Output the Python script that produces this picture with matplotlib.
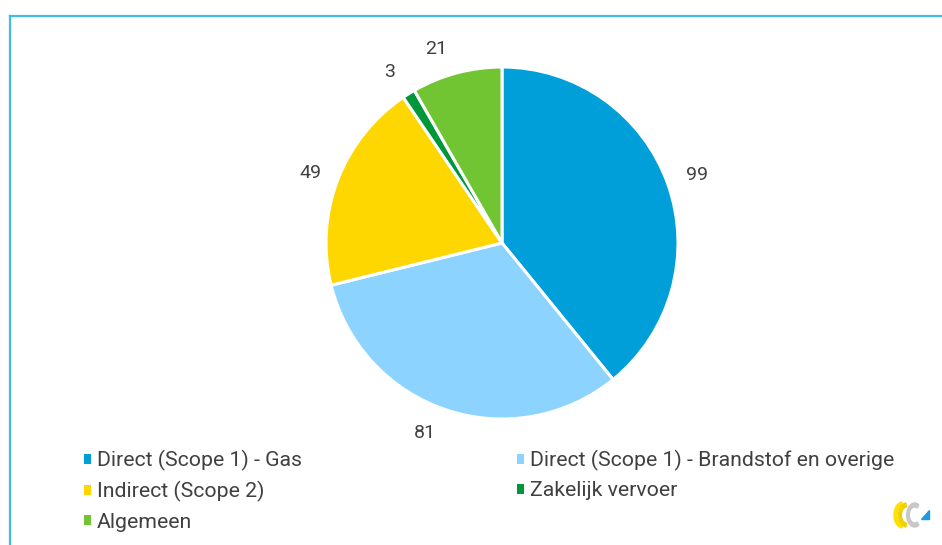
import matplotlib
matplotlib.use("Agg")
import matplotlib.pyplot as plt
from matplotlib.patches import Patch, Wedge, Polygon
from matplotlib.lines import Line2D

categories = ["Direct (Scope 1) - Gas", "Direct (Scope 1) - Brandstof en overige",
              "Indirect (Scope 2)", "Zakelijk vervoer", "Algemeen"]
values = [99, 81, 49, 3, 21]
colors = ["#009FDA", "#8DD3FF", "#FFD700", "#00963A", "#71C532"]

plt.rcParams['font.family'] = ['Roboto', 'DejaVu Sans']
W, H = 942, 545
fig = plt.figure(figsize=(W / 100, H / 100), dpi=100)

# frame border
fig.add_artist(Line2D([10 / W, 10 / W], [0, 1 - 16 / H], transform=fig.transFigure,
                      color="#3DBDE8", lw=1.6))
fig.add_artist(Line2D([10 / W, 1], [1 - 16 / H, 1 - 16 / H], transform=fig.transFigure,
                      color="#3DBDE8", lw=1.6))

# pie axes: center (502,243), radius 176
cx, cy, r = 502, 243, 176
ax = fig.add_axes([(cx - r) / W, 1 - (cy + r) / H, 2 * r / W, 2 * r / H])
wedges, texts = ax.pie(values, colors=colors, startangle=90, counterclock=False,
                       labels=[str(v) for v in values], labeldistance=1.13,
                       wedgeprops=dict(edgecolor="white", linewidth=2.2),
                       textprops=dict(fontsize=14, color="#404040"))
ax.set_aspect("equal")
ax.set_xlim(-1, 1)
ax.set_ylim(-1, 1)
label_pos = {0: (697, 175), 1: (425, 433), 2: (310, 173), 3: (390, 72), 4: (436, 49)}
for i, t in enumerate(texts):
    px, py = label_pos[i]
    t.set_position(((px - cx) / r, -(py - cy) / r))
    t.set_ha("center")
    t.set_va("center")

# legend
def make_handles(idx):
    return [Patch(facecolor=colors[i], edgecolor="none") for i in idx]

common = dict(loc="upper left", frameon=False, fontsize=15.3, handlelength=0.34,
              handleheight=0.34, handletextpad=0.28, labelspacing=0.48,
              labelcolor="#404040", borderaxespad=0, borderpad=0)
leg1 = fig.legend(make_handles([0, 2, 4]), [categories[i] for i in [0, 2, 4]],
                  bbox_to_anchor=(84 / W, 1 - 450 / H), **common)
leg2 = fig.legend(make_handles([1, 3]), [categories[i] for i in [1, 3]],
                  bbox_to_anchor=(517 / W, 1 - 450 / H), **common)

# small logo bottom-right
lax = fig.add_axes([888 / W, 1 - 530 / H, 44 / W, 30 / H])
lax.set_xlim(0, 66)
lax.set_ylim(0, 30)
lax.axis("off")
lax.add_patch(Wedge((22, 15), 13, 95, 265, width=4.5, color="#FFE000"))
lax.add_patch(Wedge((28, 15), 12, 95, 265, width=4.0, color="#F0D000"))
lax.add_patch(Wedge((40, 15), 12, 60, 300, width=4.0, color="#C8C8C8"))
lax.add_patch(Polygon([[50, 11], [62, 11], [62, 20]], closed=True, color="#1E9BE0"))

fig.savefig("out.png", dpi=100)
